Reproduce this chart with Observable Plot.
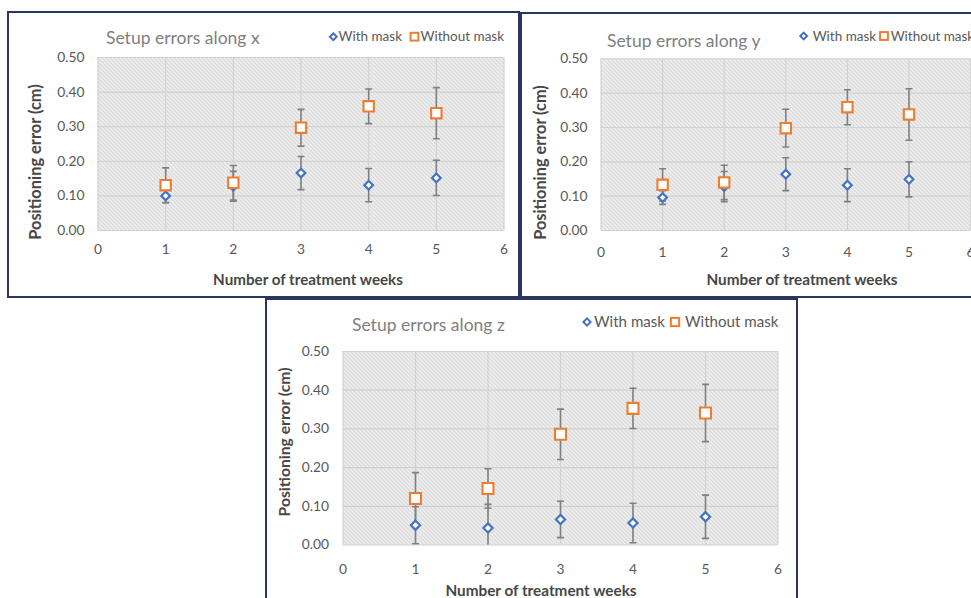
<!DOCTYPE html>
<html><head><meta charset="utf-8">
<script src="https://cdn.jsdelivr.net/npm/d3@7"></script>
<script src="https://cdn.jsdelivr.net/npm/@observablehq/plot@0.6"></script>
<style>
html,body{margin:0;padding:0;background:#fff;}
#page{position:relative;width:971px;height:598px;overflow:hidden;font-family:Lato,sans-serif;}
.panel{position:absolute;border:2px solid #2a3560;box-sizing:border-box;background:#fff;}
.plotwrap{position:absolute;}
.plotwrap svg{display:block;max-width:none;}
#overlay{position:absolute;left:0;top:0;pointer-events:none;}
</style></head><body>
<div id="page">
<svg width="0" height="0" style="position:absolute"><defs>
<pattern id="hatch" patternUnits="userSpaceOnUse" width="4" height="4">
<rect width="4" height="4" fill="#f9f9f9"/>
<path d="M-1,-1 L5,5 M-1,3 L1,5 M3,-1 L5,1" stroke="#d0d0d0" stroke-width="1.3"/>
</pattern></defs></svg>
</div>
<script>
// ---------- data ----------
const weeks = [1, 2, 3, 4, 5];
const xTicks = [0, 1, 2, 3, 4, 5, 6];
const yTicks = [0, 0.1, 0.2, 0.3, 0.4, 0.5];
const seriesNames = ["With mask", "Without mask"];
const panelTitles = ["Setup errors along x", "Setup errors along y", "Setup errors along z"];
const xAxisTitle = "Number of treatment weeks";
const yAxisTitle = "Positioning error (cm)";

const xWithMask      = [0.100, 0.128, 0.166, 0.131, 0.152];
const xWithMaskErr   = [0.020, 0.043, 0.048, 0.048, 0.051];
const xWithoutMask   = [0.131, 0.138, 0.297, 0.359, 0.339];
const xWithoutMaskErr= [0.050, 0.050, 0.053, 0.050, 0.074];

const yWithMask      = [0.096, 0.128, 0.164, 0.132, 0.149];
const yWithMaskErr   = [0.020, 0.044, 0.048, 0.048, 0.051];
const yWithoutMask   = [0.133, 0.140, 0.298, 0.359, 0.338];
const yWithoutMaskErr= [0.047, 0.050, 0.055, 0.051, 0.075];

const zWithMask      = [0.051, 0.044, 0.066, 0.057, 0.073];
const zWithMaskErr   = [0.048, 0.061, 0.047, 0.051, 0.056];
const zWithoutMask   = [0.120, 0.146, 0.286, 0.353, 0.341];
const zWithoutMaskErr= [0.067, 0.051, 0.065, 0.052, 0.074];

// ---------- layout ----------
const layouts = [
  {box:{l:7, t:11, w:512.5, h:287}, x0:97.5, x6:503.5, y5:57, y0:230, padX:14, padY:13.5, s:1,
   fs:{tick:13.8, leg:13.5, title:17.5, xt:15.2, yt:16.4},
   title:{x:106, y:44}, leg:{y:36.7, d:333.3, t1:338.5, q:414.5, t2:420.5}, yt:{x:35, y:162}, xt:{x:308, y:280}},
  {box:{l:519.5, t:12, w:470, h:285.5}, x0:600, x6:969.6, y5:58.3, y0:230, padX:16.5, padY:13.5, s:1,
   fs:{tick:13.8, leg:13.5, title:17.5, xt:15.3, yt:16.3},
   title:{x:607, y:46.7}, leg:{y:36, d:803.7, t1:812.7, q:884, t2:890.7}, yt:{x:540, y:162.5}, xt:{x:802, y:280}},
  {box:{l:264.5, t:297.5, w:533, h:320}, x0:342, x6:777, y5:350.5, y0:544, padX:19.5, padY:14, s:1.06,
   fs:{tick:13.8, leg:15.1, title:17.5, xt:15.3, yt:15.7},
   title:{x:352, y:331}, leg:{y:322, d:587, t1:594, q:675, t2:685}, yt:{x:284, y:442}, xt:{x:541, y:591}}
];
const seriesData = [
  [xWithMask, xWithMaskErr, xWithoutMask, xWithoutMaskErr],
  [yWithMask, yWithMaskErr, yWithoutMask, yWithoutMaskErr],
  [zWithMask, zWithMaskErr, zWithoutMask, zWithoutMaskErr]
];

const blue = "#4472c4", orange = "#ed7d31", barColor = "#808080";
const cap = {draw(ctx) { ctx.moveTo(-3.5, 0); ctx.lineTo(3.5, 0); }};

const page = document.getElementById("page");
const overlay = d3.create("svg").attr("id", "overlay").attr("width", 971).attr("height", 598)
  .style("font-family", "Lato, sans-serif");

layouts.forEach((L, i) => {
  const [wv, we, nv, ne] = seriesData[i];
  const data = [
    ...weeks.map((w, j) => ({week: w, series: seriesNames[0], value: wv[j], err: we[j]})),
    ...weeks.map((w, j) => ({week: w, series: seriesNames[1], value: nv[j], err: ne[j]}))
  ];
  const box = document.createElement("div");
  box.className = "panel";
  Object.assign(box.style, {left: L.box.l + "px", top: L.box.t + "px", width: L.box.w + "px", height: L.box.h + "px"});
  page.appendChild(box);

  const plot = Plot.plot({
    width: L.box.w, height: L.box.h,
    marginLeft: L.x0 - L.box.l, marginRight: L.box.l + L.box.w - L.x6,
    marginTop: L.y5 - L.box.t, marginBottom: L.box.t + L.box.h - L.y0,
    style: {background: "transparent", fontFamily: "Lato, sans-serif", fontSize: L.fs.tick + "px", color: "#595959", overflow: "visible"},
    x: {domain: [0, 6], ticks: xTicks, tickSize: 0, tickPadding: L.padX, label: null, tickFormat: d => String(d)},
    y: {domain: [0, 0.5], ticks: yTicks, tickSize: 0, tickPadding: L.padY, label: null, tickFormat: d3.format(".2f")},
    marks: [
      Plot.frame({fill: "url(#hatch)"}),
      Plot.ruleY(yTicks, {stroke: "#d2d2d2", strokeWidth: 1.2}),
      Plot.ruleX(xTicks, {stroke: "#d2d2d2", strokeWidth: 1.2}),
      Plot.ruleX(data, {x: "week", y1: d => d.value - d.err, y2: d => d.value + d.err, stroke: barColor, strokeWidth: 1.6, clip: true}),
      Plot.dot(data, {x: "week", y: d => d.value - d.err, symbol: cap, stroke: barColor, strokeWidth: 1.6, clip: true}),
      Plot.dot(data, {x: "week", y: d => d.value + d.err, symbol: cap, stroke: barColor, strokeWidth: 1.6, clip: true}),
      Plot.dot(data.filter(d => d.series === seriesNames[0]), {x: "week", y: "value", symbol: "diamond2", r: 3.9 * L.s, stroke: blue, fill: "white", strokeWidth: 2.2}),
      Plot.dot(data.filter(d => d.series === seriesNames[1]), {x: "week", y: "value", symbol: "square2", r: 6.6 * L.s, stroke: orange, fill: "white", strokeWidth: 2.1})
    ]
  });
  const wrap = document.createElement("div");
  wrap.className = "plotwrap";
  Object.assign(wrap.style, {left: L.box.l + "px", top: L.box.t + "px"});
  wrap.appendChild(plot);
  page.appendChild(wrap);

  // titles, legend, axis titles
  const g = overlay.append("g");
  g.append("text").attr("x", L.title.x).attr("y", L.title.y).attr("fill", "#7f7f7f")
    .attr("font-size", L.fs.title).text(panelTitles[i]);
  const ly = L.leg.y, ds = 3.4 * L.s, qs = 3.9 * L.s;
  g.append("path").attr("d", `M${L.leg.d},${ly - ds}L${L.leg.d + ds},${ly}L${L.leg.d},${ly + ds}L${L.leg.d - ds},${ly}Z`)
    .attr("fill", "white").attr("stroke", blue).attr("stroke-width", 2);
  g.append("text").attr("x", L.leg.t1).attr("y", ly).attr("dy", "0.35em").attr("fill", "#595959")
    .attr("font-size", L.fs.leg).text(seriesNames[0]);
  g.append("rect").attr("x", L.leg.q - qs).attr("y", ly - qs).attr("width", 2 * qs).attr("height", 2 * qs)
    .attr("fill", "white").attr("stroke", orange).attr("stroke-width", 2);
  g.append("text").attr("x", L.leg.t2).attr("y", ly).attr("dy", "0.35em").attr("fill", "#595959")
    .attr("font-size", L.fs.leg).text(seriesNames[1]);
  g.append("text").attr("transform", `translate(${L.yt.x},${L.yt.y}) rotate(-90)`).attr("text-anchor", "middle")
    .attr("dy", "0.35em").attr("font-weight", "bold").attr("fill", "#474747").attr("font-size", L.fs.yt).text(yAxisTitle);
  g.append("text").attr("x", L.xt.x).attr("y", L.xt.y).attr("text-anchor", "middle")
    .attr("dy", "0.35em").attr("font-weight", "bold").attr("fill", "#474747").attr("font-size", L.fs.xt).text(xAxisTitle);
});
page.appendChild(overlay.node());
</script>
</body></html>
